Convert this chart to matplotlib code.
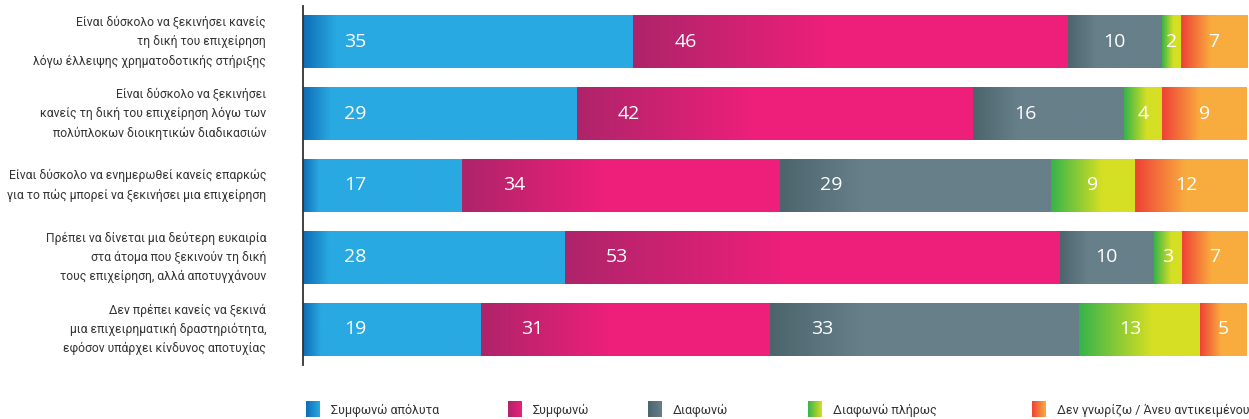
import numpy as np
import matplotlib
matplotlib.use("Agg")
import matplotlib.pyplot as plt
from matplotlib.colors import LinearSegmentedColormap

# data
categories = [
    "Είναι δύσκολο να ξεκινήσει κανείς\nτη δική του επιχείρηση\nλόγω έλλειψης χρηματοδοτικής στήριξης",
    "Είναι δύσκολο να ξεκινήσει\nκανείς τη δική του επιχείρηση λόγω των\nπολύπλοκων διοικητικών διαδικασιών",
    "Είναι δύσκολο να ενημερωθεί κανείς επαρκώς\nγια το πώς μπορεί να ξεκινήσει μια επιχείρηση",
    "Πρέπει να δίνεται μια δεύτερη ευκαιρία\nστα άτομα που ξεκινούν τη δική\nτους επιχείρηση, αλλά αποτυγχάνουν",
    "Δεν πρέπει κανείς να ξεκινά\nμια επιχειρηματική δραστηριότητα,\nεφόσον υπάρχει κίνδυνος αποτυχίας",
]
series_names = ["Συμφωνώ απόλυτα", "Συμφωνώ", "Διαφωνώ", "Διαφωνώ πλήρως",
                "Δεν γνωρίζω / Άνευ αντικειμένου"]
agree_total = [35, 29, 17, 28, 19]
agree = [46, 42, 34, 53, 31]
disagree = [10, 16, 29, 10, 33]
disagree_total = [2, 4, 9, 3, 13]
dont_know = [7, 9, 12, 7, 5]

# gradient colours (start, end, fraction of segment for the ramp)
styles = [
    ("#0f6db6", "#29a9e1", 0.10),
    ("#ae246a", "#ee1f7a", 0.45),
    ("#4c656d", "#667f89", 0.30),
    ("#36b44a", "#d5df23", 0.60),
    ("#ef4136", "#f9ac3e", 0.45),
]

values = np.array([agree_total, agree, disagree, disagree_total, dont_know], dtype=float)
shares = values / values.sum(axis=0) * 100

label_font = ["Roboto", "DejaVu Sans"]

fig = plt.figure(figsize=(12.49, 4.19), dpi=100)
ax = fig.add_axes([303 / 1249, 54 / 419, 944 / 1249, 359 / 419])

ramp = np.linspace(0, 1, 256).reshape(1, -1)
cmaps = [LinearSegmentedColormap.from_list("g%d" % i, [(0, c0), (f, c1), (1, c1)])
         for i, (c0, c1, f) in enumerate(styles)]

y = np.arange(len(categories))
left = np.zeros(len(categories))
for s in range(len(series_names)):
    c0, c1, f = styles[s]
    rects = ax.barh(y, shares[s], left=left, height=0.74, color=c1, linewidth=0, zorder=1)
    for i, r in enumerate(rects):
        x0, w = left[i], shares[s][i]
        im = ax.imshow(ramp, cmap=cmaps[s], aspect="auto", interpolation="bilinear",
                       extent=[x0, x0 + w, y[i] + 0.37, y[i] - 0.37], zorder=2)
        im.set_clip_path(r)
        ax.text(x0 + min(5.5, w / 2), y[i], "%d" % values[s][i], color="white",
                fontsize=14, ha="center", va="center", zorder=3,
                family=["Open Sans", "DejaVu Sans"])
    left += shares[s]

ax.set_xlim(0, 100)
ax.set_ylim(len(categories) - 0.5, -0.5)
ax.set_xticks([])
ax.set_yticks([])
for sp in ["top", "right", "bottom"]:
    ax.spines[sp].set_visible(False)
ax.spines["left"].set_color("#333333")
ax.spines["left"].set_linewidth(1.3)
ax.spines["left"].set_zorder(5)

for i, c in enumerate(categories):
    ax.text(-3.9, y[i], c, ha="right", va="center", fontsize=8.7, color="#333333",
            linespacing=1.6, family=label_font)

# legend drawn in pixel coordinates
lax = fig.add_axes([0, 0, 1, 40 / 419])
leg_x = [306, 508, 648, 808, 1032]
for s, name in enumerate(series_names):
    lax.imshow(ramp, cmap=LinearSegmentedColormap.from_list("l%d" % s, [styles[s][0], styles[s][1]]),
               aspect="auto", extent=[leg_x[s], leg_x[s] + 14, 38, 23])
    lax.text(leg_x[s] + 25, 31, name, ha="left", va="center", fontsize=9, color="#333333",
             family=label_font)
lax.set_xlim(0, 1249)
lax.set_ylim(40, 0)
lax.axis("off")

fig.savefig("out.png", dpi=100)
